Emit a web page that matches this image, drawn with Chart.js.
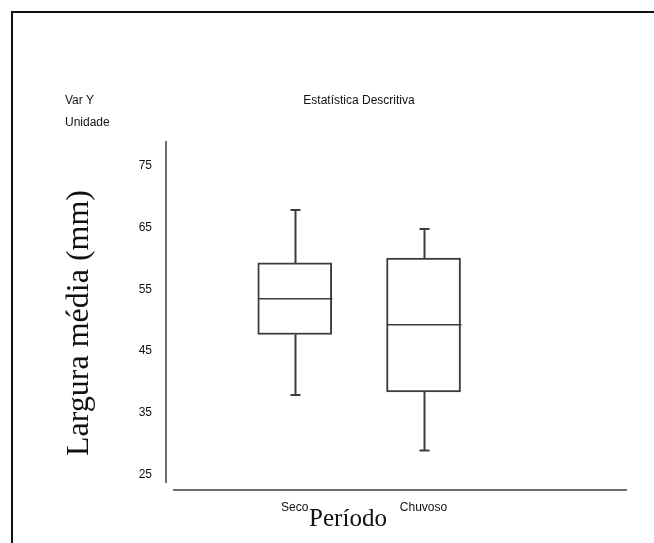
<!DOCTYPE html>
<html>
<head>
<meta charset="utf-8">
<script src="https://cdn.jsdelivr.net/npm/chart.js@4.4.1/dist/chart.umd.min.js"></script>
<style>
  html, body { margin: 0; padding: 0; background: #fff; }
  canvas { display: block; }
</style>
</head>
<body>
<canvas id="box-chart" width="654" height="543"></canvas>
<script>
// données
const categories = ['Seco', 'Chuvoso'];
const positions = [1, 2];
const minValues = [37.9, 28.9];
const q1Values = [47.7, 38.4];
const medianValues = [53.5, 49.3];
const q3Values = [59.3, 60.1];
const maxValues = [67.9, 64.8];
const yTicks = [25, 35, 45, 55, 65, 75];

const lineColor = '#3c3c3c';

// cadre + textes + moustaches
const boxPlotPlugin = {
  id: 'boxPlot',
  beforeDraw(chart) {
    const ctx = chart.ctx;
    ctx.save();
    ctx.fillStyle = '#fff';
    ctx.fillRect(0, 0, chart.width, chart.height);
    ctx.fillStyle = '#111';
    ctx.fillRect(11, 11, chart.width - 11, 2);
    ctx.fillRect(11, 11, 2, chart.height - 11);
    ctx.restore();
  },
  afterDatasetsDraw(chart) {
    const ctx = chart.ctx;
    const x = chart.scales.x;
    const y = chart.scales.y;
    const area = chart.chartArea;
    const bars = chart.getDatasetMeta(0).data;
    ctx.save();
    ctx.strokeStyle = lineColor;

    positions.forEach((p, i) => {
      const xc = Math.round(bars[i].x) + 0.5;
      const yMin = y.getPixelForValue(minValues[i]);
      const yQ1 = y.getPixelForValue(q1Values[i]);
      const yMed = y.getPixelForValue(medianValues[i]);
      const yQ3 = y.getPixelForValue(q3Values[i]);
      const yMax = y.getPixelForValue(maxValues[i]);
      const half = bars[i].width / 2;

      ctx.lineWidth = 2;
      ctx.beginPath();
      ctx.moveTo(xc, yQ3); ctx.lineTo(xc, yMax);
      ctx.moveTo(xc - 5, yMax); ctx.lineTo(xc + 5, yMax);
      ctx.moveTo(xc, yQ1); ctx.lineTo(xc, yMin);
      ctx.moveTo(xc - 5, yMin); ctx.lineTo(xc + 5, yMin);
      ctx.stroke();

      ctx.lineWidth = 1.5;
      ctx.beginPath();
      ctx.moveTo(xc - half, yMed); ctx.lineTo(xc + half, yMed);
      ctx.stroke();
    });

    // axe des x (décalé sous l'axe y)
    ctx.fillStyle = '#6e6e6e';
    ctx.fillRect(area.left + 7, area.bottom + 7, area.right - area.left - 7, 2);

    // textes
    ctx.fillStyle = '#111';
    ctx.font = '12px Arial, "Liberation Sans", sans-serif';
    ctx.textBaseline = 'alphabetic';
    ctx.textAlign = 'left';
    ctx.fillText('Var Y', 65, 104);
    ctx.fillText('Unidade', 65, 126);
    ctx.textAlign = 'center';
    ctx.fillText('Estatística Descritiva', 359, 104);

    ctx.font = '25px "Times New Roman", "Liberation Serif", serif';
    ctx.fillText('Período', 348, 526);

    ctx.translate(88, 323);
    ctx.rotate(-Math.PI / 2);
    ctx.font = '32px "Times New Roman", "Liberation Serif", serif';
    ctx.fillText('Largura média (mm)', 0, 0);
    ctx.restore();
  }
};

new Chart(document.getElementById('box-chart'), {
  type: 'bar',
  data: {
    datasets: [{
      label: 'Largura média',
      data: positions.map((p, i) => ({ x: p, y: [q1Values[i], q3Values[i]] })),
      backgroundColor: '#ffffff',
      borderColor: lineColor,
      borderWidth: 2,
      borderSkipped: false,
      barThickness: 74,
      grouped: false,
    }]
  },
  options: {
    responsive: false,
    animation: false,
    devicePixelRatio: 1,
    layout: { padding: { left: 0, top: 142, right: 27, bottom: 0 } },
    plugins: {
      legend: { display: false },
      title: { display: false },
      tooltip: { enabled: false }
    },
    scales: {
      x: {
        type: 'linear',
        offset: false,
        min: 0,
        max: 3.58,
        afterBuildTicks: (scale) => { scale.ticks = positions.map(v => ({ value: v })); },
        afterFit: (scale) => { scale.height = 61; },
        grid: { display: false, drawTicks: false },
        border: { display: false },
        ticks: {
          padding: 18,
          color: '#111',
          font: { family: 'Arial, "Liberation Sans", sans-serif', size: 12 },
          callback: (v) => categories[positions.indexOf(v)] || ''
        }
      },
      y: {
        min: 23.8,
        max: 78.9,
        afterBuildTicks: (scale) => { scale.ticks = yTicks.map(v => ({ value: v })); },
        afterFit: (scale) => { scale.width = 166; },
        grid: { display: false, drawTicks: false },
        border: { display: true, color: '#6e6e6e', width: 2 },
        ticks: {
          padding: 14,
          color: '#111',
          font: { family: 'Arial, "Liberation Sans", sans-serif', size: 12 }
        }
      }
    }
  },
  plugins: [boxPlotPlugin]
});
</script>
</body>
</html>
